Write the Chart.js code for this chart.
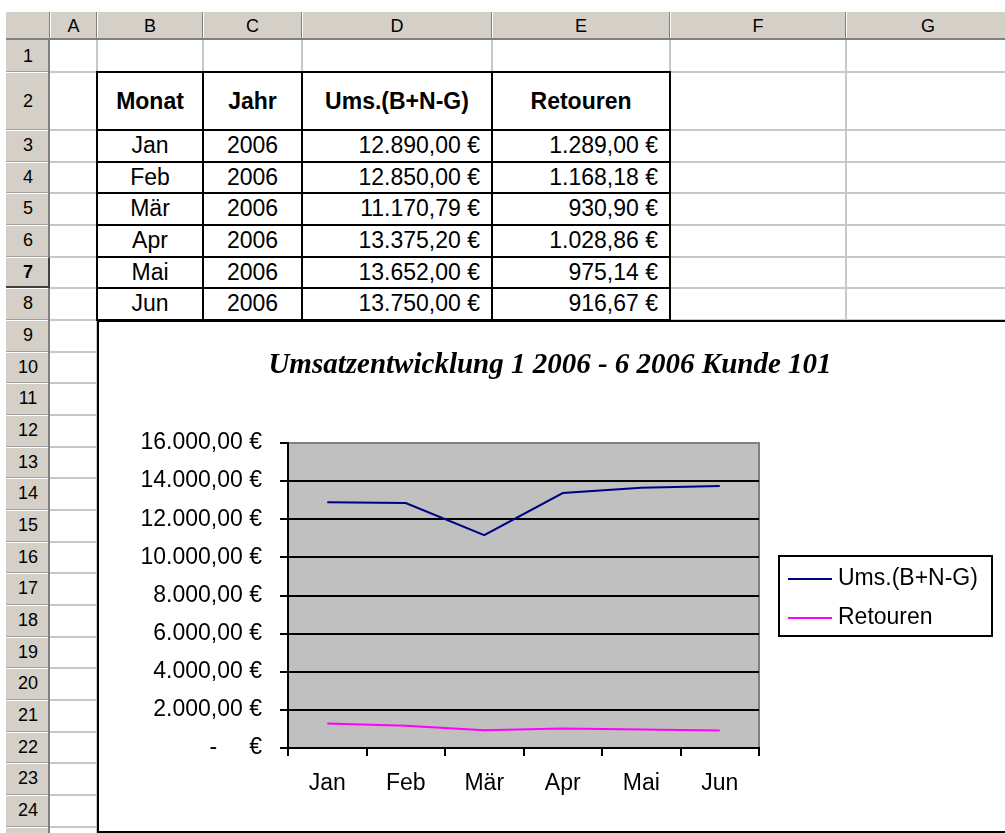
<!DOCTYPE html>
<html>
<head>
<meta charset="utf-8">
<script src="https://cdn.jsdelivr.net/npm/chart.js@4.4.0/dist/chart.umd.min.js"></script>
<style>
  html, body { margin: 0; padding: 0; background: #fff; }
  body { width: 1005px; height: 833px; overflow: hidden; position: relative; font-family: 'Liberation Sans', Arial, sans-serif; }
  .abs { position: absolute; box-sizing: border-box; white-space: nowrap; }
  #chartBox { position: absolute; left: 97px; top: 320px; width: 920px; height: 513px; border: 2px solid #000; background: #fff; box-sizing: border-box; }
  #chart { position: absolute; left: 0; top: 0; }
</style>
</head>
<body>
<div id="sheet"></div>
<div id="chartBox"><canvas id="chart" width="902" height="509"></canvas></div>
<script>
const months = ['Jan', 'Feb', 'Mär', 'Apr', 'Mai', 'Jun']
const years = [2006, 2006, 2006, 2006, 2006, 2006]
const umsatz = [12890.00, 12850.00, 11170.79, 13375.20, 13652.00, 13750.00]
const retouren = [1289.00, 1168.18, 930.90, 1028.86, 975.14, 916.67]
const headers = ['Monat', 'Jahr', 'Ums.(B+N-G)', 'Retouren']
const chartTitle = 'Umsatzentwicklung 1 2006 - 6 2006 Kunde 101'
const yMax = 16000
const yStep = 2000

// german currency format, zero shown like excel accounting format
const euro = (v) => {
  if (v === 0) return '-\u00a0\u00a0\u00a0\u00a0\u00a0€'
  const [i, d] = v.toFixed(2).split('.')
  return i.replace(/\B(?=(\d{3})+(?!\d))/g, '.') + ',' + d + ' €'
}

// ---- spreadsheet grid ----
const colX = [50, 97, 203, 302, 492, 670, 846, 1010]
const colNames = ['A', 'B', 'C', 'D', 'E', 'F', 'G']
const rowY = [40, 72]
for (let k = 0; k < 24; k++) rowY.push(130 + k * 31.67)

const sheet = document.getElementById('sheet')
const box = (l, t, w, h, css, text) => {
  const d = document.createElement('div')
  d.className = 'abs'
  d.style.cssText = `left:${l}px;top:${t}px;width:${w}px;height:${h}px;` + (css || '')
  if (text != null) d.textContent = text
  sheet.appendChild(d)
  return d
}

// cell gridlines
colX.slice(1, -1).forEach(x => box(x - 1, 40, 2, 793, 'background:#c8c8c8'))
rowY.slice(1).forEach(y => box(50, y - 1, 960, 2, 'background:#c8c8c8'))

// headers
box(6, 12, 999, 28, 'background:#d4d0c8')
box(6, 40, 44, 793, 'background:#d4d0c8')
colNames.forEach((n, i) => {
  box(colX[i], 12, colX[i + 1] - colX[i], 28, 'font-size:18px;line-height:28px;text-align:center;', n)
})
colX.slice(0, -1).forEach(x => {
  box(x - 1, 12, 1, 28, 'background:#808080')
  box(x, 12, 1, 28, 'background:#fff')
})
box(6, 38, 999, 2, 'background:#808080')
for (let r = 0; r < rowY.length - 1; r++) {
  const t = rowY[r], h = rowY[r + 1] - t
  box(6, t, 44, h, `font-size:18px;line-height:${h}px;text-align:center;` + (r === 6 ? 'font-weight:bold;' : ''), String(r + 1))
  box(6, rowY[r + 1] - 1, 44, 1, 'background:#a0a0a0')
  box(6, rowY[r + 1], 44, 1, 'background:#fff')
}
box(48, 40, 2, 793, 'background:#808080')
box(6, rowY[6] + 1, 44, rowY[7] - rowY[6] - 1, 'border-right:2px solid #404040;border-bottom:2px solid #404040;')

// table B2:E8
const cellText = (c, r, text, css) => {
  const t = rowY[r], h = rowY[r + 1] - t
  box(colX[c], t, colX[c + 1] - colX[c], h, `font-size:23px;line-height:${h}px;background:#fff;` + css, text)
}
headers.forEach((h, i) => cellText(i + 1, 1, h, 'font-weight:bold;text-align:center;'))
months.forEach((m, i) => {
  cellText(1, i + 2, m, 'text-align:center;')
  cellText(2, i + 2, String(years[i]), 'text-align:center;')
  cellText(3, i + 2, euro(umsatz[i]), 'text-align:right;padding-right:12px;')
  cellText(4, i + 2, euro(retouren[i]), 'text-align:right;padding-right:12px;')
})
for (let c = 1; c <= 5; c++) box(colX[c] - 1, rowY[1] - 1, 2, rowY[8] - rowY[1] + 2, 'background:#000')
for (let r = 1; r <= 8; r++) box(colX[1] - 1, rowY[r] - 1, colX[5] - colX[1] + 2, 2, 'background:#000')

// ---- chart ----
const plotBg = {
  id: 'plotBg',
  beforeDraw (chart) {
    const { ctx, chartArea: a } = chart
    ctx.save()
    ctx.fillStyle = '#c0c0c0'
    ctx.fillRect(a.left, a.top, a.right - a.left, a.bottom - a.top)
    ctx.strokeStyle = '#808080'
    ctx.lineWidth = 2
    ctx.strokeRect(a.left, a.top, a.right - a.left, a.bottom - a.top)
    ctx.restore()
  }
}

const boxLegend = {
  id: 'boxLegend',
  afterDraw (chart) {
    const ctx = chart.ctx
    const x = chart.chartArea.right + 20
    const y = 234
    ctx.save()
    ctx.strokeStyle = '#000'
    ctx.lineWidth = 2
    ctx.strokeRect(x, y, 213, 80)
    ctx.font = '23px "Liberation Sans", Arial, sans-serif'
    ctx.fillStyle = '#000'
    ctx.textBaseline = 'middle'
    chart.data.datasets.forEach((ds, i) => {
      const ly = y + 23 + i * 39
      ctx.strokeStyle = ds.borderColor
      ctx.beginPath()
      ctx.moveTo(x + 9, ly)
      ctx.lineTo(x + 53, ly)
      ctx.stroke()
      ctx.fillText(ds.label, x + 59, ly)
    })
    ctx.restore()
  }
}

const axisFont = { family: 'Liberation Sans', size: 23 }

new Chart(document.getElementById('chart'), {
  type: 'line',
  data: {
    labels: months,
    datasets: [
      { label: headers[2], data: umsatz, borderColor: '#000080', borderWidth: 2, pointRadius: 0, tension: 0, fill: false },
      { label: headers[3], data: retouren, borderColor: '#ff00ff', borderWidth: 2, pointRadius: 0, tension: 0, fill: false }
    ]
  },
  options: {
    responsive: false,
    animation: false,
    layout: { padding: 0 },
    plugins: {
      legend: { display: false },
      tooltip: { enabled: false },
      title: {
        display: true,
        text: chartTitle,
        color: '#000',
        font: { family: 'Liberation Serif', size: 29, style: 'italic', weight: 'bold', lineHeight: 1.2 },
        padding: { top: 26.6, bottom: 59.6 }
      }
    },
    scales: {
      x: {
        offset: true,
        grid: { offset: true, drawOnChartArea: false, tickLength: 8, tickColor: '#000', tickWidth: 2, lineWidth: 2, color: '#000' },
        border: { display: true, color: '#000', width: 2 },
        ticks: { color: '#000', font: axisFont, padding: 14, maxRotation: 0, autoSkip: false },
        afterFit: (s) => { s.height = 83 }
      },
      y: {
        min: 0,
        max: yMax,
        grid: {
          color: (c) => (c.tick && c.tick.value === yMax ? 'rgba(0,0,0,0)' : '#000'),
          lineWidth: 2,
          tickLength: 8,
          tickColor: '#000',
          tickWidth: 2
        },
        border: { display: true, color: '#000', width: 2 },
        ticks: { stepSize: yStep, callback: (v) => euro(v), color: '#000', font: axisFont, padding: 18 },
        afterFit: (s) => { s.width = 189 }
      },
      pad: {
        type: 'linear',
        position: 'right',
        grid: { display: false },
        border: { display: false },
        ticks: { display: false },
        afterFit: (s) => { s.width = 242 }
      }
    }
  },
  plugins: [plotBg, boxLegend]
})
</script>
</body>
</html>
